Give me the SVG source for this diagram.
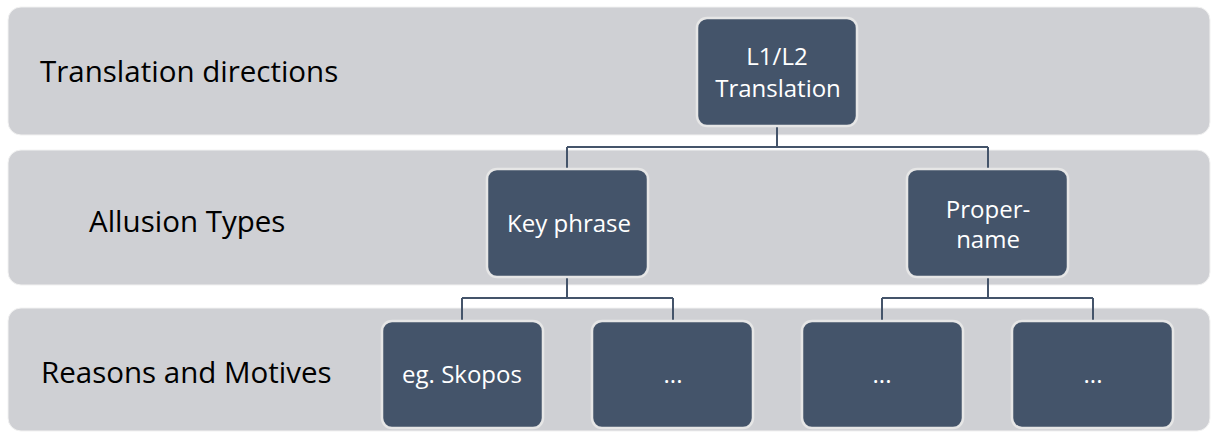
<svg xmlns="http://www.w3.org/2000/svg" width="1211" height="432" viewBox="0 0 1211 432">
  <style>
    .band { fill: #cfd0d4; stroke: #f2f2f2; stroke-width: 1; }
    .band-label { font-family: "Open Sans", "Liberation Sans", sans-serif; font-size: 29.5px; fill: #000; }
    .node rect { fill: #44546a; stroke: #e6e6e6; stroke-width: 2.5; }
    .node text { font-family: "Open Sans", "Liberation Sans", sans-serif; font-size: 24px; fill: #ffffff; text-anchor: middle; }
    .link { fill: none; stroke: #44546a; stroke-width: 2; }
  </style>

  <!-- background bands -->
  <g id="bands">
    <rect class="band" x="8" y="7" width="1202" height="128" rx="13"/>
    <rect class="band" x="8" y="150" width="1202" height="135" rx="13"/>
    <rect class="band" x="8" y="308" width="1202" height="123" rx="13"/>
    <text class="band-label" x="40" y="82">Translation directions</text>
    <text class="band-label" x="89" y="232">Allusion Types</text>
    <text class="band-label" x="41" y="383">Reasons and Motives</text>
  </g>

  <!-- connectors -->
  <g id="connectors">
    <path class="link" d="M777 126 V147 M567 147 H988 M567 147 V169 M988 147 V169"/>
    <path class="link" d="M567 277 V298 M462 298 H673 M462 298 V321 M673 298 V321"/>
    <path class="link" d="M988 277 V298 M882 298 H1093 M882 298 V321 M1093 298 V321"/>
  </g>

  <g id="node-l1l2" class="node">
    <rect x="697" y="18" width="160" height="108" rx="10"/>
    <text x="777" y="65">L1/L2</text>
    <text x="778" y="97">Translation</text>
  </g>

  <g id="node-key-phrase" class="node">
    <rect x="487" y="169" width="161" height="108" rx="10"/>
    <text x="569" y="232">Key phrase</text>
  </g>

  <g id="node-proper-name" class="node">
    <rect x="907" y="169" width="161" height="108" rx="10"/>
    <text x="988" y="218">Proper-</text>
    <text x="988" y="248">name</text>
  </g>

  <g id="node-skopos" class="node">
    <rect x="382" y="321" width="161" height="107" rx="10"/>
    <text x="462" y="383">eg. Skopos</text>
  </g>

  <g id="node-more-1" class="node">
    <rect x="592" y="321" width="161" height="107" rx="10"/>
    <text x="673" y="383">...</text>
  </g>

  <g id="node-more-2" class="node">
    <rect x="802" y="321" width="161" height="107" rx="10"/>
    <text x="882" y="383">...</text>
  </g>

  <g id="node-more-3" class="node">
    <rect x="1012" y="321" width="161" height="107" rx="10"/>
    <text x="1093" y="383">...</text>
  </g>
</svg>
